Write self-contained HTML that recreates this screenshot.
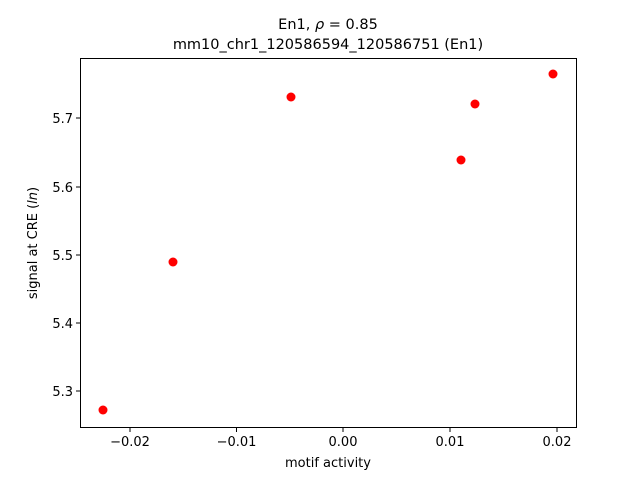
<!DOCTYPE html>
<html><head><meta charset="utf-8"><style>body{margin:0;background:#fff}</style></head><body>
<svg width="640" height="480" xmlns="http://www.w3.org/2000/svg" font-family="DejaVu Sans, Liberation Sans, sans-serif">
<rect width="640" height="480" fill="#fff"/>
<text x="328" y="29" font-size="14.5" text-anchor="middle">En1, <tspan font-style="italic">ρ</tspan> = 0.85</text>
<text x="328" y="49" font-size="14.5" text-anchor="middle">mm10_chr1_120586594_120586751 (En1)</text>
<g fill="red">
<circle cx="103" cy="410" r="4.5"/><circle cx="173" cy="262" r="4.5"/><circle cx="291" cy="97" r="4.5"/>
<circle cx="461" cy="160" r="4.5"/><circle cx="475" cy="104" r="4.5"/><circle cx="553" cy="74" r="4.5"/>
</g>
<rect x="80.5" y="58.5" width="496" height="369" fill="none" stroke="#000" stroke-width="1"/>
<g stroke="#000">
<line x1="130" y1="428" x2="130" y2="432"/><line x1="236.5" y1="428" x2="236.5" y2="432"/>
<line x1="343" y1="428" x2="343" y2="432"/><line x1="450" y1="428" x2="450" y2="432"/><line x1="557" y1="428" x2="557" y2="432"/>
<line x1="76" y1="118" x2="80" y2="118"/><line x1="76" y1="187" x2="80" y2="187"/><line x1="76" y1="255" x2="80" y2="255"/>
<line x1="76" y1="323" x2="80" y2="323"/><line x1="76" y1="391" x2="80" y2="391"/>
</g>
<g font-size="13" text-anchor="middle">
<text x="130" y="446">−0.02</text><text x="236.5" y="446">−0.01</text><text x="343" y="446">0.00</text>
<text x="450" y="446">0.01</text><text x="557" y="446">0.02</text>
<text x="328" y="467">motif activity</text>
</g>
<g font-size="13" text-anchor="end">
<text x="73" y="123">5.7</text><text x="73" y="192">5.6</text><text x="73" y="260">5.5</text>
<text x="73" y="328">5.4</text><text x="73" y="396">5.3</text>
</g>
<text transform="translate(37,243) rotate(-90)" font-size="13" text-anchor="middle">signal at CRE (<tspan font-style="italic">ln</tspan>)</text>
</svg>
</body></html>
